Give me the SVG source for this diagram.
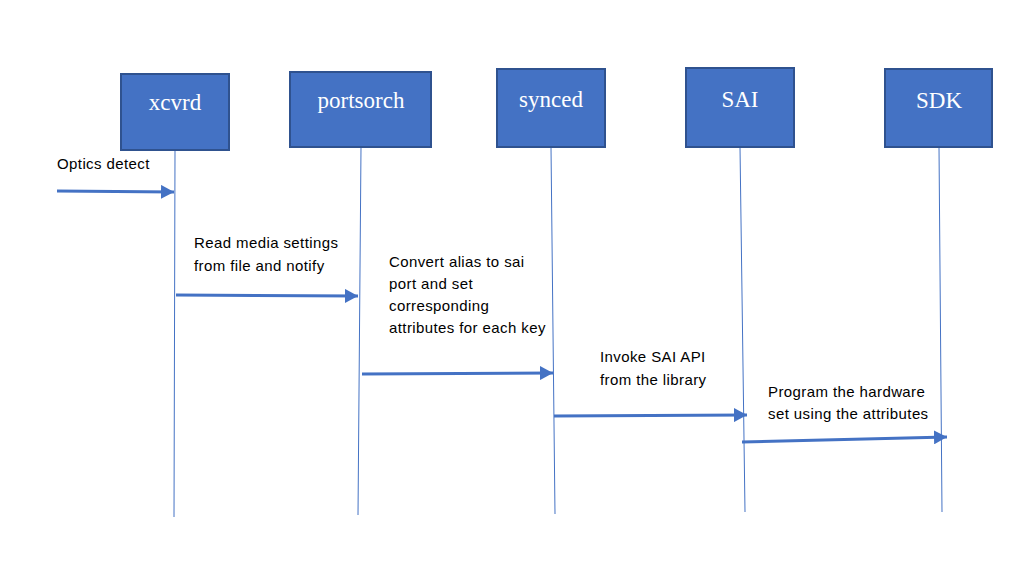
<svg xmlns="http://www.w3.org/2000/svg" width="1029" height="581" viewBox="0 0 1029 581">
<style>
.box{fill:#4472C4;stroke:#2F528F;stroke-width:2}
.nt{font-family:"Liberation Serif","Times New Roman",serif;font-size:23px;fill:#fff;text-anchor:middle}
.life{stroke:#4472C4;stroke-width:1;fill:none}
.msg{stroke:#4472C4;stroke-width:3;fill:none}
.lbl{font-family:"Liberation Sans",Arial,sans-serif;font-size:15px;letter-spacing:0.4px;fill:#000}
</style>
<defs>
<marker id="ah" markerUnits="userSpaceOnUse" markerWidth="14" markerHeight="14" refX="13" refY="7" orient="auto">
<path d="M0,0 L13,7 L0,14 Z" fill="#4472C4"/>
</marker>
</defs>
<rect width="1029" height="581" fill="#fff"/>
<g id="lifelines">
<line class="life" x1="175" y1="150" x2="174" y2="517"/>
<line class="life" x1="361" y1="147" x2="358" y2="515"/>
<line class="life" x1="551" y1="147" x2="555" y2="514"/>
<line class="life" x1="740" y1="147" x2="745" y2="512"/>
<line class="life" x1="939" y1="147" x2="942" y2="512"/>
</g>
<g id="xcvrd"><rect class="box" x="121" y="74" width="108" height="76"/><text class="nt" x="175" y="110">xcvrd</text></g>
<g id="portsorch"><rect class="box" x="290" y="72" width="141" height="75"/><text class="nt" x="361" y="108">portsorch</text></g>
<g id="synced"><rect class="box" x="497" y="69" width="108" height="78"/><text class="nt" x="551" y="107">synced</text></g>
<g id="SAI"><rect class="box" x="686" y="68" width="108" height="79"/><text class="nt" x="740" y="107">SAI</text></g>
<g id="SDK"><rect class="box" x="885" y="69" width="107" height="78"/><text class="nt" x="939" y="108">SDK</text></g>
<g id="connectors">
<path class="msg" d="M57,191 L174,192" marker-end="url(#ah)"/>
<path class="msg" d="M176,295 L358,296" marker-end="url(#ah)"/>
<path class="msg" d="M362,374 L553,373" marker-end="url(#ah)"/>
<path class="msg" d="M554,416 L747,415" marker-end="url(#ah)"/>
<path class="msg" d="M742,442 L947,437" marker-end="url(#ah)"/>
</g>
<g id="labels">
<text class="lbl" x="57" y="169">Optics detect</text>
<text class="lbl" x="194" y="248">Read media settings</text>
<text class="lbl" x="194" y="271">from file and notify</text>
<text class="lbl" x="389" y="267">Convert alias to sai</text>
<text class="lbl" x="389" y="289">port and set</text>
<text class="lbl" x="389" y="311">corresponding</text>
<text class="lbl" x="389" y="333">attributes for each key</text>
<text class="lbl" x="600" y="362">Invoke SAI API</text>
<text class="lbl" x="600" y="385">from the library</text>
<text class="lbl" x="768" y="397">Program the hardware</text>
<text class="lbl" x="768" y="419">set using the attributes</text>
</g>
</svg>
